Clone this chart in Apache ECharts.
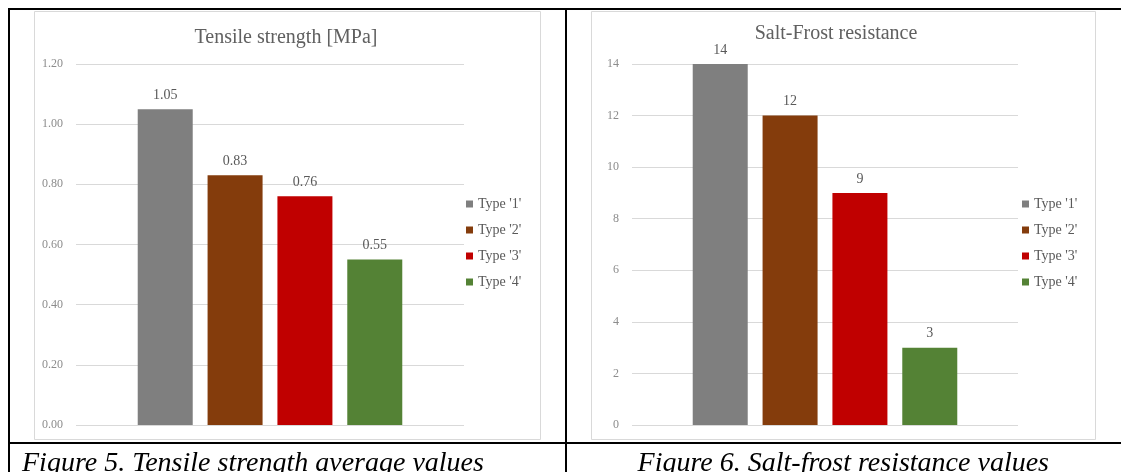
<!DOCTYPE html>
<html>
<head>
<meta charset="utf-8">
<script src="https://cdn.jsdelivr.net/npm/echarts@6/dist/echarts.min.js"></script>
<style>
  html, body { margin: 0; padding: 0; background: #fff; }
  #chart { width: 1121px; height: 472px; }
</style>
</head>
<body>
<div id="chart"></div>
<script>
// Specimen types (shared by both panels)
const types = ["Type '1'", "Type '2'", "Type '3'", "Type '4'"];
const typeColors = ['#7f7f7f', '#843c0c', '#c00000', '#548235'];

// Figure 5: tensile strength [MPa]
const tensileValues = [1.05, 0.83, 0.76, 0.55];
const tensileAxis = { min: 0, max: 1.2, interval: 0.2 };

// Figure 6: salt-frost resistance
const frostValues = [14, 12, 9, 3];
const frostAxis = { min: 0, max: 14, interval: 2 };

const titles = ['Tensile strength [MPa]', 'Salt-Frost resistance'];
const captions = ['Figure 5. Tensile strength average values', 'Figure 6. Salt-frost resistance values'];

const serif = '"Liberation Serif", "Times New Roman", serif';
const gridColor = '#d9d9d9';
const textGray = '#595959';

const chart = echarts.init(document.getElementById('chart'), null, { renderer: 'canvas' });

function makeAxes(gridIndex, axisDef, decimals) {
  return {
    x: {
      type: 'category', gridIndex, data: [''],
      axisLine: { show: false }, axisTick: { show: false }, axisLabel: { show: false }
    },
    y: {
      type: 'value', gridIndex,
      min: axisDef.min, max: axisDef.max, interval: axisDef.interval,
      axisLine: { show: false }, axisTick: { show: false },
      splitLine: { lineStyle: { color: gridColor, width: 1 } },
      axisLabel: {
        color: '#8c8c8c', fontFamily: serif, fontSize: 12, margin: 13,
        formatter: v => v.toFixed(decimals)
      }
    }
  };
}

const axesL = makeAxes(0, tensileAxis, 2);
const axesR = makeAxes(1, frostAxis, 0);

function makeSeries(values, axisIndex, decimals) {
  return values.map((v, i) => ({
    name: types[i],
    type: 'bar',
    xAxisIndex: axisIndex, yAxisIndex: axisIndex,
    data: [v],
    barWidth: 55,
    barGap: '27%',
    itemStyle: { color: typeColors[i] },
    label: {
      show: true, position: 'top', distance: 7,
      color: textGray, fontFamily: serif, fontSize: 14,
      formatter: p => p.value.toFixed(decimals)
    }
  }));
}

function makeLegend(left) {
  return {
    orient: 'vertical', left, top: 197, padding: 0,
    data: types, icon: 'rect', itemWidth: 7, itemHeight: 7, itemGap: 12,
    textStyle: { color: textGray, fontFamily: serif, fontSize: 14, lineHeight: 14 },
    selectedMode: false
  };
}

function makeTitle(text, cx, top) {
  return {
    text, left: cx, top, textAlign: 'center', padding: 0,
    textStyle: { color: '#606060', fontFamily: serif, fontSize: 20, fontWeight: 'normal' }
  };
}

const frame = [
  // table rules
  { type: 'rect', shape: { x: 8, y: 8, width: 1113, height: 2 }, style: { fill: '#000' }, z: 5 },
  { type: 'rect', shape: { x: 8, y: 8, width: 2, height: 464 }, style: { fill: '#000' }, z: 5 },
  { type: 'rect', shape: { x: 565, y: 8, width: 2, height: 464 }, style: { fill: '#000' }, z: 5 },
  { type: 'rect', shape: { x: 8, y: 442, width: 1113, height: 2 }, style: { fill: '#000' }, z: 5 },
  // chart panels
  { type: 'rect', shape: { x: 34.5, y: 11.5, width: 506, height: 428 }, style: { fill: '#fff', stroke: '#d9d9d9', lineWidth: 1 }, z: -10 },
  { type: 'rect', shape: { x: 591.5, y: 11.5, width: 504, height: 428 }, style: { fill: '#fff', stroke: '#d9d9d9', lineWidth: 1 }, z: -10 },
  // captions
  { type: 'text', x: 22, y: 464, style: { text: captions[0], font: 'italic 28px ' + serif, fill: '#000', verticalAlign: 'middle' }, z: 5 },
  { type: 'text', x: 1049, y: 464, style: { text: captions[1], font: 'italic 28px ' + serif, fill: '#000', align: 'right', verticalAlign: 'middle' }, z: 5 }
];

chart.setOption({
  animation: false,
  backgroundColor: '#fff',
  title: [makeTitle(titles[0], 286, 28), makeTitle(titles[1], 836, 24)],
  legend: [makeLegend(466), makeLegend(1022)],
  grid: [
    { left: 76, right: 1121 - 464, top: 64, bottom: 472 - 425 },
    { left: 632, right: 1121 - 1018, top: 64, bottom: 472 - 425 }
  ],
  xAxis: [axesL.x, axesR.x],
  yAxis: [axesL.y, axesR.y],
  series: [...makeSeries(tensileValues, 0, 2), ...makeSeries(frostValues, 1, 0)],
  graphic: { elements: frame }
});
</script>
</body>
</html>
